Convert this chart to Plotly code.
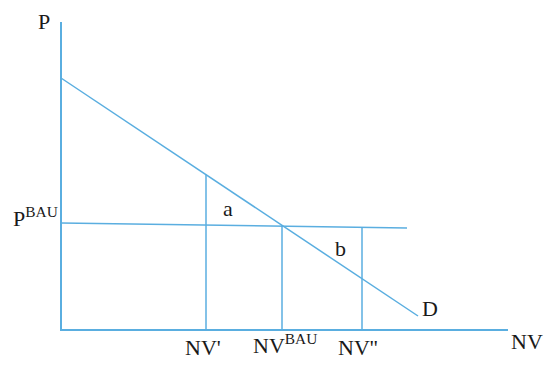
import plotly.graph_objects as go

# coordinates in chart units (origin at the axes corner)
axis_x_end = 447
axis_y_end = 308
demand_x = [0, 357]
demand_y = [252, 14]
p_bau_x = [0, 346]
p_bau_y = [107, 102]
nv_prime = 145
nv_bau = 221
nv_dprime = 301

line_color = "#5aaee0"
font_family = "Liberation Serif, Times New Roman, serif"


def demand_at(x):
    slope = (demand_y[1] - demand_y[0]) / (demand_x[1] - demand_x[0])
    return demand_y[0] + slope * (x - demand_x[0])


def pbau_at(x):
    slope = (p_bau_y[1] - p_bau_y[0]) / (p_bau_x[1] - p_bau_x[0])
    return p_bau_y[0] + slope * (x - p_bau_x[0])


fig = go.Figure()

# axes
fig.add_trace(go.Scatter(x=[0, 0, axis_x_end], y=[axis_y_end, 0, 0], mode="lines",
                         line=dict(color=line_color, width=2)))
# demand curve
fig.add_trace(go.Scatter(x=demand_x, y=demand_y, mode="lines", line=dict(color=line_color, width=1.5)))
# P BAU line
fig.add_trace(go.Scatter(x=p_bau_x, y=p_bau_y, mode="lines", line=dict(color=line_color, width=1.5)))
# vertical drop lines
for xv, top in [(nv_prime, demand_at(nv_prime)), (nv_bau, demand_at(nv_bau)), (nv_dprime, pbau_at(nv_dprime))]:
    fig.add_trace(go.Scatter(x=[xv, xv], y=[0, top], mode="lines", line=dict(color=line_color, width=1.5)))

labels = [
    (-17, 309, "P"),
    (-26, 113, "P<sup>BAU</sup>"),
    (nv_prime - 3, -17, "NV'"),
    (nv_bau + 3, -14, "NV<sup>BAU</sup>"),
    (nv_dprime - 4, -17, "NV''"),
    (466, -11, "NV"),
    (167, 122, "a"),
    (279, 82, "b"),
    (369, 22, "D"),
]
for x, y, t in labels:
    fig.add_annotation(x=x, y=y, text=t, showarrow=False,
                       font=dict(family=font_family, size=22, color="#1a1a1a"))

fig.update_layout(
    width=550, height=373,
    margin=dict(l=0, r=0, t=0, b=0),
    plot_bgcolor="white", paper_bgcolor="white",
    showlegend=False,
    hovermode=False,
    xaxis=dict(range=[-61, 489], visible=False),
    yaxis=dict(range=[-43, 330], visible=False),
)

fig.write_html("out.html", config={"displayModeBar": False},
               post_script="document.body.style.margin='0';")
